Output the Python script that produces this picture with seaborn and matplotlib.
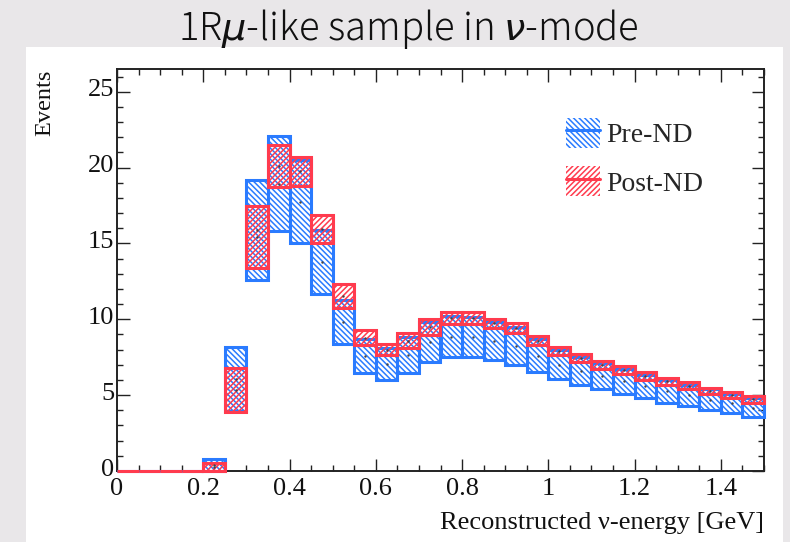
import numpy as np
import pandas as pd
import matplotlib
matplotlib.use("Agg")
import matplotlib.pyplot as plt
import matplotlib.transforms as mtransforms
import seaborn as sns
from matplotlib.patches import Rectangle, Patch
from matplotlib.lines import Line2D
from matplotlib.legend_handler import HandlerTuple
from matplotlib.ticker import MultipleLocator, FixedLocator, FixedFormatter

# ---------------- data ----------------
bin_left = [0.00, 0.05, 0.10, 0.15, 0.20, 0.25, 0.30, 0.35, 0.40, 0.45,
            0.50, 0.55, 0.60, 0.65, 0.70, 0.75, 0.80, 0.85, 0.90, 0.95,
            1.00, 1.05, 1.10, 1.15, 1.20, 1.25, 1.30, 1.35, 1.40, 1.45]
bin_width = 0.05

pre_lo = [0, 0, 0, 0, 0.00, 3.95, 12.6, 15.8, 15.0, 11.7,
          8.35, 6.45, 6.00, 6.45, 7.20, 7.50, 7.50, 7.30, 7.00, 6.50,
          6.05, 5.65, 5.40, 5.10, 4.80, 4.50, 4.30, 4.00, 3.85, 3.55]
pre_hi = [0, 0, 0, 0, 0.77, 8.20, 19.15, 22.1, 20.5, 15.9,
          11.3, 8.70, 8.10, 8.85, 9.80, 10.2, 10.15, 9.80, 9.50, 8.70,
          7.95, 7.50, 7.10, 6.75, 6.35, 6.00, 5.70, 5.40, 5.10, 4.80]

post_lo = [0, 0, 0, 0, 0.00, 3.90, 13.4, 18.7, 18.8, 15.0,
           10.75, 8.30, 7.65, 8.10, 8.95, 9.70, 9.70, 9.45, 9.10, 8.30,
           7.65, 7.20, 6.75, 6.40, 6.00, 5.65, 5.40, 5.10, 4.80, 4.50]
post_hi = [0, 0, 0, 0, 0.55, 6.80, 17.5, 21.5, 20.7, 16.9,
           12.35, 9.30, 8.35, 9.10, 10.05, 10.5, 10.45, 10.05, 9.75, 8.90,
           8.15, 7.70, 7.25, 6.90, 6.50, 6.15, 5.85, 5.50, 5.20, 4.95]

series_names = ["Pre-ND", "Post-ND"]
xtick_values = [0, 0.2, 0.4, 0.6, 0.8, 1.0, 1.2, 1.4]
xtick_labels = ["0", "0.2", "0.4", "0.6", "0.8", "1", "1.2", "1.4"]
ytick_values = [0, 5, 10, 15, 20, 25]
ytick_labels = ["0", "5", "10", "15", "20", "25"]

title = "1R$\\mu$-like sample in $\\nu$-mode"
xlabel = "Reconstructed \u03bd-energy [GeV]"
ylabel = "Events"

# ---------------- style ----------------
sns.set_style("ticks")
plt.rcParams["font.family"] = ["Liberation Serif", "DejaVu Serif"]
plt.rcParams["hatch.linewidth"] = 1.1
plt.rcParams["mathtext.fontset"] = "dejavusans"

BLUE = "#2a7bff"
RED = "#ff3b4e"
BG = "#e9e7e9"
AXC = "#222222"
TXT = "#111111"
HATCH_B = "\\" * 6
HATCH_R = "/" * 6

fig = plt.figure(figsize=(7.9, 5.42), dpi=100)
fig.patch.set_facecolor(BG)
fig.patches.append(Rectangle((26 / 790, 0), (783 - 26) / 790, (542 - 47) / 542,
                             transform=fig.transFigure, facecolor="white",
                             edgecolor="none", zorder=-5))

L, R, T, B = 117, 764, 69, 471
ax = fig.add_axes([L / 790, 1 - B / 542, (R - L) / 790, (B - T) / 542])
ax.set_zorder(2)
ax.set_facecolor("white")

df = pd.DataFrame({
    "left": bin_left * 2,
    "lo": pre_lo + post_lo,
    "hi": pre_hi + post_hi,
    "series": [series_names[0]] * len(bin_left) + [series_names[1]] * len(bin_left),
})
df["height"] = df["hi"] - df["lo"]
df["center"] = df["left"] + bin_width / 2
df["mid"] = (df["hi"] + df["lo"]) / 2

styles = {"Pre-ND": (BLUE, HATCH_B), "Post-ND": (RED, HATCH_R)}
for name in series_names:
    sub = df[df["series"] == name]
    col, hat = styles[name]
    bars = ax.bar(sub["left"], sub["height"], bottom=sub["lo"], width=bin_width,
                  align="edge", facecolor="none", edgecolor=col, hatch=hat,
                  linewidth=2.2, zorder=3)
    for b in bars:
        b.set_clip_on(False)

nz = df[df["height"] > 0]
sns.scatterplot(data=nz, x="center", y="mid", s=3, color="#444444",
                linewidth=0, ax=ax, legend=False, zorder=5)

ax.set_xlim(0, 1.5)
ax.set_ylim(0, 26.5)
ax.xaxis.set_major_locator(FixedLocator(xtick_values))
ax.xaxis.set_major_formatter(FixedFormatter(xtick_labels))
ax.xaxis.set_minor_locator(MultipleLocator(0.05))
ax.yaxis.set_major_locator(FixedLocator(ytick_values))
ax.yaxis.set_major_formatter(FixedFormatter(ytick_labels))
ax.yaxis.set_minor_locator(MultipleLocator(1))
ax.tick_params(which="both", direction="in", top=True, right=True,
               color=AXC, width=1.0, labelsize=19, labelcolor=TXT)
ax.tick_params(which="major", length=9)
ax.tick_params(which="minor", length=4.5)
ax.tick_params(axis="x", which="major", pad=5)
ax.tick_params(axis="y", which="major", pad=2)
for s in ax.spines.values():
    s.set_color(AXC)
    s.set_linewidth(1.4)
    s.set_zorder(2.5)
ax.set_xlabel("")
ax.set_ylabel("")

up = mtransforms.ScaledTranslation(0, 4 / 100, fig.dpi_scale_trans)
for lab in ax.get_yticklabels():
    lab.set_transform(lab.get_transform() + up)

fig.text(45 / 790, 1 - 70 / 542, ylabel, rotation=90, ha="center", va="top",
         fontsize=17.5, color=TXT)
fig.text(R / 790, 1 - 523 / 542, xlabel, ha="right", va="center",
         fontsize=19, color=TXT)
fig.text(408 / 790, 1 - 29 / 542, title, ha="center", va="center",
         fontsize=27.5, color=TXT, fontweight="light",
         family=["Noto Sans CJK JP", "DejaVu Sans"])

# legend
h_pre = (Patch(facecolor="none", edgecolor=BLUE, hatch=HATCH_B, linewidth=0),
         Line2D([], [], color=BLUE, linewidth=2.2))
h_post = (Patch(facecolor="none", edgecolor=RED, hatch=HATCH_R, linewidth=0),
          Line2D([], [], color=RED, linewidth=2.2))
ax.legend([h_pre, h_post], series_names, handler_map={tuple: HandlerTuple(ndivide=1)},
          loc="upper left", bbox_to_anchor=((566 - L) / (R - L), (B - 118) / (B - T)),
          frameon=False, fontsize=20, borderpad=0, handlelength=1.22,
          handleheight=1.26, handletextpad=0.22, labelspacing=0.66, borderaxespad=0)

fig.savefig("out.png", dpi=100, facecolor=BG)
